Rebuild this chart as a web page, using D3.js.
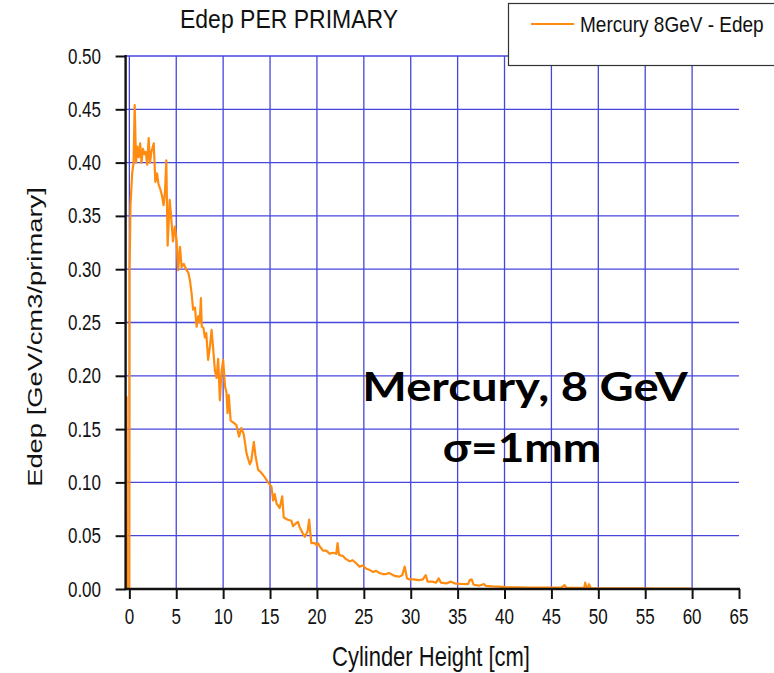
<!DOCTYPE html>
<html>
<head>
<meta charset="utf-8">
<script src="https://cdn.jsdelivr.net/npm/d3@7"></script>
<style>
  body { margin: 0; background: #fff; }
  svg { display: block; }
  text { font-family: Arial, "Liberation Sans", sans-serif; fill: #111; }
  .note { font-family: Lato, "Open Sans", sans-serif; font-weight: 700; fill: #000; }
</style>
</head>
<body>
<svg width="774" height="673"></svg>
<script>
// data: depth along cylinder (cm) and deposited energy (GeV/cm3/primary)
var heightCm = [-0.35, -0.3, -0.25, 0, 0.03, 0.12, 0.3, 0.45, 0.57, 0.71, 0.85, 1.0, 1.15, 1.3, 1.45, 1.6, 1.75, 1.9, 2.06, 2.2,
  2.35, 2.6, 2.77, 2.95, 3.1, 3.3, 3.48, 3.65, 3.8, 3.94, 4.08, 4.3, 4.5, 4.65, 4.85, 5.04, 5.2, 5.4, 5.57, 5.8,
  6.1, 6.28, 6.45, 6.64, 6.8, 7.0, 7.17, 7.35, 7.5, 7.63, 7.72, 7.9, 8.05, 8.2, 8.4, 8.6, 8.77, 8.95, 9.12, 9.3,
  9.47, 9.65, 9.83, 10.0, 10.2, 10.36, 10.47, 10.6, 10.8, 11.1, 11.4, 11.7, 11.95, 12.2, 12.5, 12.84, 13.0, 13.27, 13.45, 13.72,
  14.07, 14.43, 14.79, 15.15, 15.33, 15.5, 15.7, 16.03, 16.3, 16.46, 16.9, 17.28, 17.45, 17.7, 17.98, 18.16, 18.5, 18.7, 19.0, 19.17,
  19.4, 19.76, 19.95, 20.1, 20.3, 20.64, 21.0, 21.35, 21.7, 22.06, 22.2, 22.35, 22.77, 23.1, 23.5, 23.8, 24.2, 24.55, 24.9, 25.26,
  25.6, 25.96, 26.3, 26.67, 27.0, 27.38, 27.7, 28.1, 28.4, 28.8, 29.1, 29.36, 29.6, 29.86, 30.3, 30.9, 31.3, 31.6, 31.8, 32.3,
  32.7, 32.98, 33.2, 33.8, 34.3, 34.8, 35.5, 36.1, 36.3, 36.5, 36.7, 37.3, 37.8, 38.0, 38.7, 39.4, 40.1, 40.8, 41.5, 42.2,
  43.0, 43.8, 44.6, 45.3, 46.0, 46.2, 46.4, 46.6, 47.3, 48.0, 48.5, 48.6, 48.75, 48.9, 49.0, 49.2, 50, 51, 52, 53,
  54, 55, 56, 57, 58, 59, 60];
var edep = [0, 0.18, 0, 0, 0.30, 0.36, 0.39, 0.40, 0.454, 0.40, 0.415, 0.405, 0.418, 0.40, 0.413, 0.408, 0.41, 0.398, 0.423, 0.40,
  0.41, 0.418, 0.382, 0.39, 0.38, 0.375, 0.369, 0.36, 0.372, 0.402, 0.322, 0.365, 0.344, 0.326, 0.34, 0.327, 0.299, 0.321, 0.302, 0.305,
  0.299, 0.297, 0.29, 0.277, 0.262, 0.264, 0.246, 0.256, 0.25, 0.273, 0.246, 0.245, 0.236, 0.24, 0.215, 0.228, 0.243, 0.224, 0.205, 0.198,
  0.216, 0.177, 0.204, 0.215, 0.19, 0.184, 0.165, 0.182, 0.158, 0.156, 0.154, 0.143, 0.151, 0.145, 0.127, 0.117, 0.12, 0.138, 0.125, 0.112,
  0.109, 0.105, 0.1, 0.096, 0.083, 0.089, 0.08, 0.076, 0.087, 0.067, 0.065, 0.064, 0.059, 0.061, 0.063, 0.058, 0.052, 0.049, 0.054, 0.065,
  0.043, 0.043, 0.041, 0.043, 0.04, 0.036, 0.036, 0.033, 0.034, 0.033, 0.043, 0.032, 0.031, 0.028, 0.026, 0.027, 0.024, 0.021, 0.022, 0.019,
  0.018, 0.016, 0.017, 0.015, 0.014, 0.014, 0.015, 0.013, 0.012, 0.0116, 0.013, 0.021, 0.01, 0.009, 0.009, 0.0084, 0.009, 0.013, 0.007, 0.0069,
  0.006, 0.010, 0.006, 0.0053, 0.0069, 0.005, 0.0047, 0.0045, 0.0084, 0.009, 0.004, 0.0031, 0.0047, 0.003, 0.0025, 0.0022, 0.0018, 0.0016, 0.0015, 0.0014,
  0.0014, 0.0012, 0.0012, 0.0012, 0.0012, 0.0022, 0.0037, 0.001, 0.001, 0.001, 0.0012, 0.006, 0.001, 0.0015, 0.0045, 0.0008, 0.0007, 0.0006, 0.0006, 0.0005,
  0.0005, 0.0005, 0.0004, 0.0004, 0.0003, 0.0003, 0.0003];

var xTicks = d3.range(0, 66, 5);
var yTicks = d3.range(0, 0.501, 0.05);
var seriesName = "Mercury 8GeV - Edep";

var svg = d3.select("svg");

var x = d3.scaleLinear().domain([-0.4, 65]).range([125.6, 739]);
var y = d3.scaleLinear().domain([0, 0.5]).range([589, 56]);

// the source image text is a bit tall, so labels get a vertical stretch
var label = function(px, py, str, size, anchor, sy) {
	return svg.append("g")
		.attr("transform", "translate(" + px + "," + py + ") scale(1," + (sy || 1.25) + ")")
		.append("text")
		.attr("font-size", size)
		.attr("text-anchor", anchor || "middle")
		.text(str);
};

// grid
svg.append("g").selectAll("line")
	.data(xTicks.filter(function(d) { return d <= 60; }))
	.enter().append("line")
	.attr("x1", function(d) { return x(d); })
	.attr("x2", function(d) { return x(d); })
	.attr("y1", y(0.5)).attr("y2", y(0))
	.attr("stroke", "#4646dc").attr("stroke-width", 1.3);

svg.append("g").selectAll("line")
	.data(yTicks.slice(1))
	.enter().append("line")
	.attr("x1", x(-0.4)).attr("x2", x(65))
	.attr("y1", function(d) { return y(d); })
	.attr("y2", function(d) { return y(d); })
	.attr("stroke", "#4646dc").attr("stroke-width", 1.3);

// curve
var line = d3.line()
	.x(function(d) { return x(d[0]); })
	.y(function(d) { return y(d[1]); });

svg.append("path")
	.datum(d3.zip(heightCm, edep))
	.attr("d", line)
	.attr("fill", "none")
	.attr("stroke", "#ff8c10")
	.attr("stroke-width", 2.2)
	.attr("stroke-linejoin", "round");

// axes
var xAxis = svg.append("g").attr("transform", "translate(0," + y(0) + ")");
xAxis.call(d3.axisBottom(x).tickValues(d3.range(2.5, 65, 5)).tickSize(6).tickFormat(""));
xAxis.call(d3.axisBottom(x).tickValues(xTicks).tickSize(10).tickFormat(""));
xAxis.selectAll(".domain").remove();
xAxis.selectAll("line").attr("stroke", "#111").attr("stroke-width", 2);
xAxis.append("line").attr("x1", x(-0.4) - 1).attr("x2", x(65) + 1)
	.attr("stroke", "#111").attr("stroke-width", 2.4);

var yAxis = svg.append("g").attr("transform", "translate(" + x(-0.4) + ",0)");
yAxis.call(d3.axisLeft(y).tickValues(d3.range(0.025, 0.5, 0.05)).tickSize(5).tickFormat(""));
yAxis.call(d3.axisLeft(y).tickValues(yTicks).tickSize(10).tickFormat(""));
yAxis.selectAll(".domain").remove();
yAxis.selectAll("line").attr("stroke", "#111").attr("stroke-width", 2);
yAxis.append("line").attr("y1", y(0.5) - 1).attr("y2", y(0) + 1)
	.attr("stroke", "#111").attr("stroke-width", 2.4);

xTicks.forEach(function(d) {
	label(x(d), 624, d, 17);
});
yTicks.forEach(function(d) {
	label(101, y(d) + 7.5, d3.format(".2f")(d), 17, "end");
});

// titles
label(289, 28, "Edep PER PRIMARY", 23, "middle", 1.12);
label(431, 666, "Cylinder Height [cm]", 22);

svg.append("g")
	.attr("transform", "translate(42,337) rotate(-90) scale(1.37,1)")
	.append("text")
	.attr("font-size", 20)
	.attr("text-anchor", "middle")
	.text("Edep [GeV/cm3/primary]");

// legend
svg.append("rect")
	.attr("x", 508.5).attr("y", 3.5).attr("width", 300).attr("height", 62)
	.attr("fill", "#fff").attr("stroke", "#333").attr("stroke-width", 1.2);
svg.append("line")
	.attr("x1", 531).attr("x2", 574).attr("y1", 24).attr("y2", 24)
	.attr("stroke", "#ff8c10").attr("stroke-width", 2);
label(580, 32, seriesName, 19, "start", 1.15);

// annotation
svg.append("g").attr("transform", "translate(525,401) scale(1.15,1)")
	.append("text").attr("class", "note")
	.attr("font-size", 41)
	.attr("text-anchor", "middle").text("Mercury, 8 GeV");
svg.append("g").attr("transform", "translate(522,462) scale(1.12,1)")
	.append("text").attr("class", "note")
	.attr("font-size", 41)
	.attr("text-anchor", "middle").text("σ=1mm");
</script>
</body>
</html>
